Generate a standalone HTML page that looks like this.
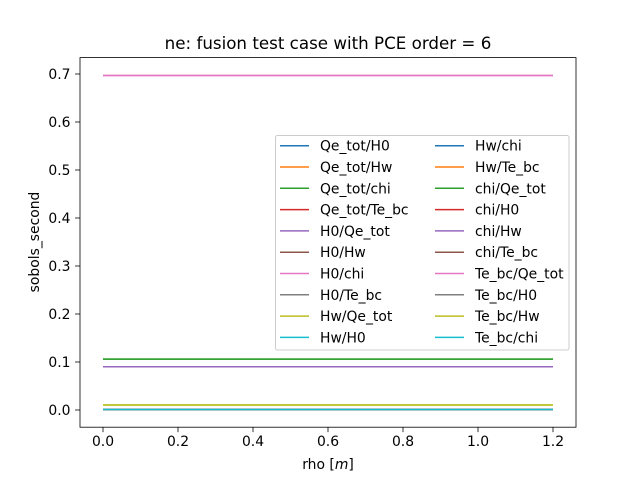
<!DOCTYPE html>
<html><head><meta charset="utf-8"><style>
body{margin:0;background:#fff}
svg text{font-family:"DejaVu Sans","Liberation Sans",sans-serif}
</style></head><body>
<svg id="chart" width="640" height="480" xmlns="http://www.w3.org/2000/svg">
<rect width="640" height="480" fill="#fff"/>
<g id="lines"></g>
<g id="axes"></g>
<g id="legend"></g>
</svg>
<script>
const rho = [0.0, 0.3, 0.6, 0.9, 1.2];
const seriesNames = ["Qe_tot/H0","Qe_tot/Hw","Qe_tot/chi","Qe_tot/Te_bc","H0/Qe_tot","H0/Hw","H0/chi","H0/Te_bc","Hw/Qe_tot","Hw/H0","Hw/chi","Hw/Te_bc","chi/Qe_tot","chi/H0","chi/Hw","chi/Te_bc","Te_bc/Qe_tot","Te_bc/H0","Te_bc/Hw","Te_bc/chi"];
const seriesValues = [0.001,0.001,0.106,0.001,0.090,0.001,0.697,0.001,0.0105,0.001,0.001,0.001,0.106,0.001,0.090,0.001,0.697,0.001,0.0105,0.001];
const yTicks = [0.0,0.1,0.2,0.3,0.4,0.5,0.6,0.7];
const xTicks = [0.0,0.2,0.4,0.6,0.8,1.0,1.2];
const colors = ["#1f77b4","#ff7f0e","#2ca02c","#d62728","#9467bd","#8c564b","#e377c2","#7f7f7f","#bcbd22","#17becf"];
const NS="http://www.w3.org/2000/svg";
const L=80,R=576,T=57.6,B=427.2;
const xs=v=>103+v*375;
const ys=v=>410-v*480;
function mk(tag,attrs,parent,text){const e=document.createElementNS(NS,tag);for(const k in attrs)e.setAttribute(k,attrs[k]);if(text!==undefined)e.textContent=text;parent.appendChild(e);return e;}
const lg=document.getElementById('lines');
seriesNames.forEach((n,i)=>{
  const pts=rho.map(r=>xs(r)+','+ys(seriesValues[i])).join(' ');
  const p=mk('polyline',{points:pts,fill:'none',stroke:colors[i%10],'stroke-width':1.5},lg);
  
  
});
const ax=document.getElementById('axes');
mk('rect',{x:L,y:T,width:R-L,height:B-T,fill:'none',stroke:'#000','stroke-width':0.8},ax);
yTicks.forEach(t=>{
  const y=ys(t);
  mk('line',{x1:L,x2:L-4.9,y1:y,y2:y,stroke:'#000','stroke-width':0.8},ax);
  const tx=mk('text',{x:L-9.5,y:y+5,'font-size':13.9,'text-anchor':'end'},ax,t.toFixed(1));
  
  
});
xTicks.forEach(t=>{
  const x=xs(t);
  mk('line',{x1:x,x2:x,y1:B,y2:B+4.9,stroke:'#000','stroke-width':0.8},ax);
  const tx=mk('text',{x:x,y:B+19,'font-size':13.9,'text-anchor':'middle'},ax,t.toFixed(1));
  
  
});
let e=mk('text',{x:328,y:469,'font-size':13.9,'text-anchor':'middle'},ax,'rho [');


const ti=mk('tspan',{'font-style':'italic'},e,'m');mk('tspan',{},e,']');
e=mk('text',{x:0,y:0,'font-size':13.9,'text-anchor':'middle',transform:'translate(39,242) rotate(-90)'},ax,'sobols_second');


e=mk('text',{x:328,y:49,'font-size':16.7,'text-anchor':'middle'},ax,'ne: fusion test case with PCE order = 6');


const lgd=document.getElementById('legend');
mk('rect',{x:275.5,y:135.5,width:293.5,height:214.5,rx:2,fill:'#fff','fill-opacity':0.8,stroke:'#ccc','stroke-width':1},lgd);
seriesNames.forEach((n,i)=>{
  const col=Math.floor(i/10),row=i%10;
  const y=145.7+row*21.3;
  const x0=col?435:280;
  const g=mk('g',{},lgd);
  
  
  mk('line',{x1:x0,x2:x0+29,y1:y,y2:y,stroke:colors[i%10],'stroke-width':1.5},g);
  mk('text',{x:x0+40,y:y+5,'font-size':13.9},g,n);
});
</script>
</body></html>
